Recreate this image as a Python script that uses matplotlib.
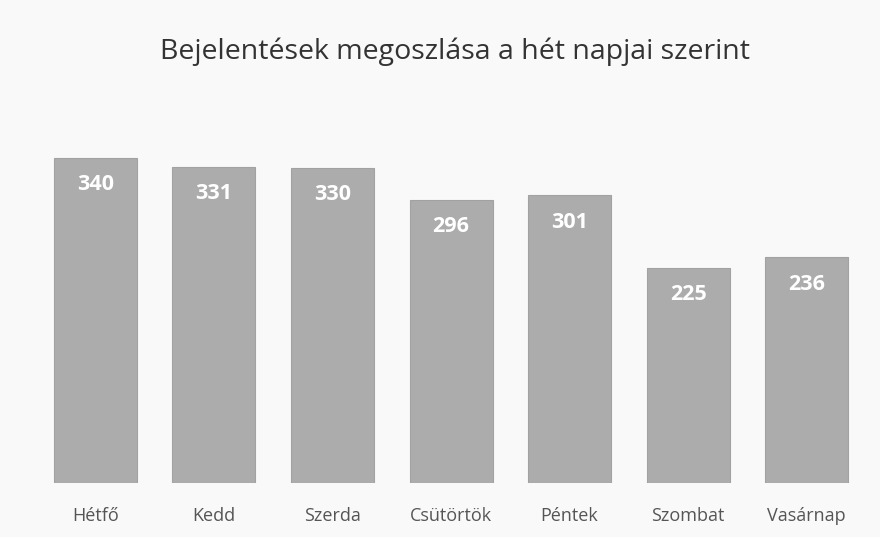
import matplotlib.pyplot as plt

# Adatok
napok = ['Hétfő', 'Kedd', 'Szerda', 'Csütörtök', 'Péntek', 'Szombat', 'Vasárnap']
bejelentesek = [340, 331, 330, 296, 301, 225, 236]
cim = 'Bejelentések megoszlása a hét napjai szerint'

plt.rcParams['font.family'] = ['Open Sans', 'DejaVu Sans']

fig = plt.figure(figsize=(8.8, 5.37), dpi=100)
fig.patch.set_facecolor('#f9f9f9')

# tengely: x 36..866 px, y alja 483 px, 0.956 px/egység
ax = fig.add_axes([36 / 880, (537 - 483) / 537, 830 / 880, 350 * 0.956 / 537])
ax.set_facecolor('#f9f9f9')

x = range(len(napok))
bars = ax.bar(x, bejelentesek, width=0.70, color='#acacac', edgecolor='#a2a2a2', linewidth=0.8)

for b, v in zip(bars, bejelentesek):
    ax.text(b.get_x() + b.get_width() / 2, v - 28, str(v), ha='center', va='center',
            color='white', fontsize=15.5, fontweight='bold')

ax.set_xlim(-0.5, len(napok) - 0.5)
ax.set_ylim(0, 350)
ax.set_xticks(list(x))
ax.set_xticklabels(napok, fontsize=13, color='#555555')
ax.tick_params(axis='x', length=0, pad=17)
ax.set_yticks([])
for s in ax.spines.values():
    s.set_visible(False)

fig.text(455 / 880, 1 - 52 / 537, cim, ha='center', va='center', fontsize=20.5, color='#333333')

fig.savefig('out.png', dpi=100, facecolor=fig.get_facecolor())
